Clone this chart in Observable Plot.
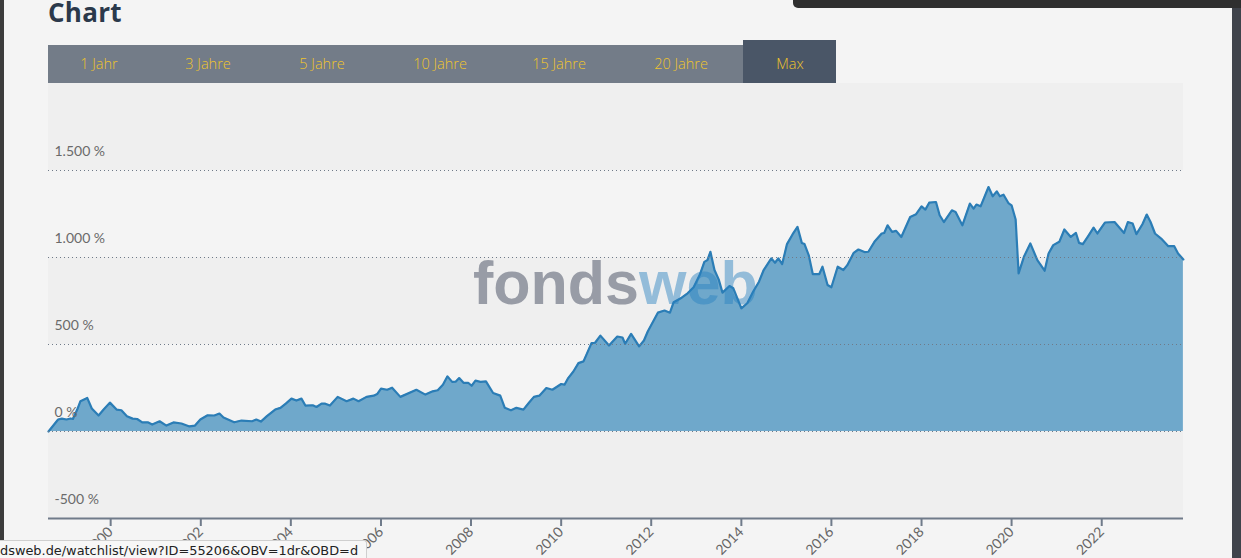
<!DOCTYPE html>
<html>
<head>
<meta charset="utf-8">
<script src="https://cdn.jsdelivr.net/npm/d3@7"></script>
<script src="https://cdn.jsdelivr.net/npm/@observablehq/plot@0.6"></script>
<style>
  html, body { margin: 0; padding: 0; width: 1241px; height: 558px; overflow: hidden; background: #f4f4f4; }
  #page { position: relative; width: 1241px; height: 558px; }
  #title { position: absolute; left: 48px; top: 0px; font-family: "Open Sans", sans-serif; font-weight: 700; font-size: 26px; line-height: 24px; color: #2b394b; letter-spacing: 0.3px; }
  #btnbar { position: absolute; left: 48px; top: 45px; width: 695px; height: 38px; background: #737c88; }
  #maxbtn { position: absolute; left: 743px; top: 40px; width: 93px; height: 43px; background: #4a5667; }
  .btn { position: absolute; font-family: "Open Sans", sans-serif; font-size: 14.5px; font-weight: 300; color: #efc52c; transform: translateX(-50%); white-space: nowrap; line-height: 18px; }
  #chart { position: absolute; left: 0; top: 83px; }
  #wm { position: absolute; left: 473px; top: 253px; font-family: "Liberation Sans", Arial, sans-serif; font-weight: 700; font-size: 61px; letter-spacing: 0px; pointer-events: none; line-height: 1; }
  #wm .a { color: #989ca6; }
  #wm .b { color: rgba(40,129,192,0.46); }
  #leftstrip { position: absolute; left: 0; top: 0; width: 4px; height: 558px; background: #3c3c3c; }
  #rightstrip { position: absolute; left: 1232px; top: 0; width: 9px; height: 558px; background: #3f434b; }
  #topbar { position: absolute; left: 793px; top: 0; width: 448px; height: 8px; background: #2f2f2f; border-bottom-left-radius: 5px; }
  #status { position: absolute; left: 0; top: 540px; width: 366px; height: 18px; background: #f7f7f7; border-top: 1px solid #cfcfcf; border-right: 1px solid #cfcfcf; border-top-right-radius: 3px; font-family: "DejaVu Sans", sans-serif; font-size: 12.9px; color: #222; line-height: 19px; overflow: hidden; white-space: nowrap; }
</style>
</head>
<body>
<div id="page">
  <div id="leftstrip"></div>
  <div id="title">Chart</div>
  <div id="btnbar"></div>
  <div id="maxbtn"></div>
  <div id="buttons"></div>
  <div id="chart"></div>
  <div id="wm"><span class="a">fonds</span><span class="b">web</span></div>
  <div id="rightstrip"></div>
  <div id="topbar"></div>
  <div id="status">dsweb.de/watchlist/view?ID=55206&amp;OBV=1dr&amp;OBD=d</div>
</div>
<script>
// ---- data ----
const rangeButtons = ["1 Jahr", "3 Jahre", "5 Jahre", "10 Jahre", "15 Jahre", "20 Jahre", "Max"];
const buttonCenters = [99, 208, 322, 440, 559, 681, 790];

const dates = [
"1998-08-15","1998-11-01","1998-12-01","1999-01-08","1999-02-10","1999-03-01","1999-04-05","1999-05-01","1999-06-25","1999-08-01",
"1999-09-25","1999-11-05","1999-12-26","2000-02-18","2000-03-28","2000-05-12","2000-06-27","2000-08-03","2000-09-13","2000-10-28",
"2000-12-03","2001-02-01","2001-03-28","2001-05-24","2001-07-28","2001-10-01","2001-11-15","2001-12-28","2002-02-25","2002-04-21",
"2002-06-01","2002-07-04","2002-09-29","2002-11-27","2003-02-21","2003-03-27","2003-05-03","2003-06-21","2003-08-27","2003-10-09",
"2003-11-21","2004-01-06","2004-02-15","2004-03-27","2004-04-28","2004-06-27","2004-07-27","2004-09-06","2004-10-06","2004-11-13",
"2005-01-15","2005-03-28","2005-05-22","2005-07-03","2005-09-06","2005-11-03","2005-12-01","2006-01-01","2006-02-20","2006-04-01",
"2006-06-07","2006-10-15","2006-12-27","2007-02-24","2007-04-06","2007-05-18","2007-06-24","2007-08-01","2007-08-29","2007-09-27",
"2007-11-01","2007-12-09","2008-01-06","2008-02-06","2008-03-18","2008-05-01","2008-06-28","2008-08-25","2008-10-01","2008-11-20",
"2009-01-03","2009-03-01","2009-04-13","2009-05-25","2009-07-08","2009-09-03","2009-10-22","2010-01-01","2010-01-28","2010-02-27",
"2010-04-10","2010-05-21","2010-07-01","2010-09-04","2010-10-03","2010-11-15","2011-01-24","2011-04-01","2011-05-13","2011-06-04",
"2011-07-22","2011-09-25","2011-11-03","2011-12-04","2012-02-24","2012-04-18","2012-06-01","2012-07-01","2012-09-04","2012-10-22",
"2012-12-10","2013-01-28","2013-03-07","2013-04-01","2013-04-25","2013-05-28","2013-07-01","2013-08-01","2013-09-27","2013-10-28",
"2014-01-01","2014-02-18","2014-04-06","2014-05-24","2014-07-01","2014-09-01","2014-10-01","2014-10-28","2014-11-28","2015-01-06",
"2015-02-21","2015-04-01","2015-05-06","2015-05-28","2015-07-01","2015-08-03","2015-09-25","2015-10-21","2015-12-01","2016-01-01",
"2016-02-21","2016-04-07","2016-05-09","2016-06-30","2016-08-07","2016-09-25","2016-10-27","2016-12-15","2017-02-12","2017-03-04",
"2017-04-01","2017-05-07","2017-06-09","2017-07-21","2017-10-01","2017-11-18","2018-01-01","2018-02-01","2018-03-04","2018-04-28",
"2018-05-28","2018-07-01","2018-09-04","2018-10-04","2018-11-28","2019-01-28","2019-02-27","2019-03-22","2019-04-25","2019-06-28",
"2019-08-01","2019-09-03","2019-09-28","2019-10-28","2019-12-06","2020-01-01","2020-02-03","2020-02-27","2020-04-10","2020-06-01",
"2020-07-28","2020-09-25","2020-10-27","2020-12-04","2021-01-22","2021-03-04","2021-04-25","2021-06-06","2021-07-01","2021-08-01",
"2021-09-12","2021-10-27","2021-11-27","2022-01-27","2022-04-15","2022-07-01","2022-08-01","2022-09-09","2022-10-09","2022-11-27",
"2023-01-01","2023-02-01","2023-03-09","2023-04-28","2023-06-25","2023-08-12","2023-09-12","2023-10-25"
];
const values = [
0,69,74,69,75,72,126,174,193,132,
92,126,166,126,122,88,74,72,52,53,
40,59,34,52,46,29,34,69,93,92,
103,80,53,63,59,69,57,88,126,136,
160,189,178,189,149,151,141,160,160,149,
199,174,189,174,199,206,215,246,240,252,
199,240,212,231,237,269,317,285,286,307,
280,280,263,292,285,288,221,206,136,122,
136,126,164,199,206,250,240,273,269,307,
345,393,403,508,510,551,494,546,540,504,
561,489,523,575,683,695,683,743,769,794,
829,899,975,985,1033,928,874,798,836,823,
708,737,803,861,928,995,970,995,962,1077,
1134,1176,1084,1077,1014,905,905,947,842,829,
947,928,956,1027,1046,1031,1033,1090,1138,1141,
1185,1147,1153,1118,1233,1249,1294,1275,1315,1319,
1243,1204,1271,1262,1185,1310,1281,1304,1294,1405,
1352,1380,1352,1361,1313,1300,1218,909,1004,1081,
985,924,1023,1071,1090,1161,1118,1141,1084,1077,
1122,1172,1138,1201,1204,1141,1204,1195,1134,1191,
1247,1204,1138,1109,1065,1065,1023,989
];
const yTicks = [1500, 1000, 500, 0, -500];
const gridValues = [1500, 1000, 500, 0];
const bandLo = [1500, 500, -500];
const bandHi = [2000, 1000, 0];
const xTickYears = [2000, 2002, 2004, 2006, 2008, 2010, 2012, 2014, 2016, 2018, 2020, 2022];
const xStart = "1998-08-15";
const xEnd = "2023-10-26";
const yMin = -500, yMax = 2000;

// ---- build ----
const data = dates.map((d, i) => ({date: new Date(d + "T00:00:00Z"), value: values[i]}));
const bands = bandLo.map((lo, i) => ({lo, hi: bandHi[i]}));
const xTicks = xTickYears.map(y => new Date(Date.UTC(y, 0, 1)));
const fmtDe = v => String(v).replace(/\B(?=(\d{3})+(?!\d))/g, ".") + " %";

const btnHost = document.getElementById("buttons");
rangeButtons.forEach((t, i) => {
  const s = document.createElement("div");
  s.className = "btn";
  s.textContent = t;
  s.style.left = buttonCenters[i] + "px";
  s.style.top = "55px";
  btnHost.appendChild(s);
});

const chart = Plot.plot({
  width: 1241,
  height: 475,
  marginLeft: 48,
  marginRight: 58,
  marginTop: 0,
  marginBottom: 40,
  x: {type: "utc", domain: [new Date(xStart + "T00:00:00Z"), new Date(xEnd + "T00:00:00Z")]},
  y: {domain: [yMin, yMax]},
  axis: null,
  style: {background: "transparent", fontFamily: "Lato, 'Open Sans', sans-serif", fontSize: "14px", color: "#666", overflow: "visible"},
  marks: [
    Plot.rect([{}], {fill: "#f4f4f4"}),
    Plot.rect(bands, {y1: "lo", y2: "hi", fill: "#efefef"}),
    Plot.areaY(data, {x: "date", y: "value", fill: "#6fa8cb"}),
    Plot.lineY(data, {x: "date", y: "value", stroke: "#2b7db6", strokeWidth: 2.2}),
    Plot.ruleY(gridValues, {stroke: "#6f7a88", strokeDasharray: "1,3", strokeWidth: 1}),
    Plot.text(yTicks, {y: d => d, text: d => fmtDe(d), frameAnchor: "left", textAnchor: "start", dx: 6, dy: -19, fill: "#6a6a6a", fontSize: 14}),
    Plot.ruleY([yMin], {stroke: "#707b8a", strokeWidth: 2}),
    Plot.axisX({ticks: xTicks, tickFormat: d => String(d.getUTCFullYear()), tickRotate: -45, tickSize: 8, tickPadding: 3, stroke: "#707b8a", strokeWidth: 2, fill: "#666", fontSize: 14, label: null})
  ]
});
document.getElementById("chart").appendChild(chart);
</script>
</body>
</html>
